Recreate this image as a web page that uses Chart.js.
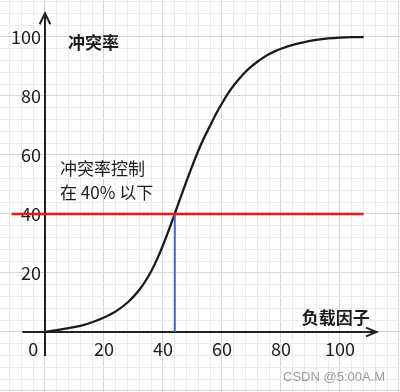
<!DOCTYPE html>
<html>
<head>
<meta charset="utf-8">
<script src="https://cdn.jsdelivr.net/npm/chart.js@4/dist/chart.umd.min.js"></script>
<style>
  html, body { margin: 0; padding: 0; background: #ffffff; }
  #wrap { width: 400px; height: 392px; }
</style>
</head>
<body>
<div id="wrap"><canvas id="c" width="400" height="392"></canvas></div>
<script>
// ---- data ----
const loadFactor    = [0, 4, 8, 12, 16, 20, 24, 28, 30, 32, 34, 36, 38, 40, 42, 44, 46, 48, 50, 52, 54, 56, 58, 60, 62, 64, 66, 68, 70, 72, 74, 76, 78, 80, 84, 88, 92, 96, 100, 104, 108];
const collisionRate = [0, 0.6, 1.3, 2.1, 3.3, 4.9, 7.0, 10.0, 12.0, 14.3, 17.2, 20.6, 24.7, 29.4, 34.6, 40.1, 45.7, 51.2, 56.5, 61.5, 66.0, 70.0, 74.0, 77.5, 80.8, 83.6, 86.0, 88.2, 90.0, 91.6, 93.0, 94.2, 95.2, 96.0, 97.3, 98.3, 99.0, 99.5, 99.8, 99.95, 100];
const limitRate = 40;          // red horizontal line
const limitLoad = 44;          // blue vertical line
const limitSpan = [-11.3, 108];
const xTickLabels = [20, 40, 60, 80, 100];
const yTickLabels = [20, 40, 60, 80, 100];
const xAxisSpan = [-7.7, 112.4];
const yAxisSpan = [-8.1, 108];
const yAxisTitle = '冲突率';
const xAxisTitle = '负载因子';
const noteLine1 = '冲突率控制';
const noteLine2 = '在 40% 以下';
const originLabel = '0';
const watermark = 'CSDN @5:00A.M';

// ---- styles ----
const CJK = '"Noto Sans CJK SC", "Microsoft YaHei", sans-serif';
const INK = '#1c1c1c';
const MAJOR = '#d6d6d6';
const MINOR = '#ebebeb';

const curvePts = loadFactor.map((v, i) => ({x: v, y: collisionRate[i]}));

const zeroPad = s => { s.paddingTop = 0; s.paddingBottom = 0; s.paddingLeft = 0; s.paddingRight = 0; };

const textPlugin = {
  id: 'notes',
  afterDatasetsDraw(chart) {
    const {ctx, scales: {x, y}} = chart;
    const put = (text, vx, vy, font, color, align) => {
      ctx.font = font; ctx.fillStyle = color; ctx.textAlign = align; ctx.textBaseline = 'middle';
      ctx.fillText(text, x.getPixelForValue(vx), y.getPixelForValue(vy));
    };
    ctx.save();
    put(yAxisTitle, 7.8, 98, 'bold 17px ' + CJK, INK, 'left');
    put(xAxisTitle, 87, 4.75, 'bold 17px ' + CJK, INK, 'left');
    put(noteLine1, 5.1, 55.5, '17px ' + CJK, INK, 'left');
    put(noteLine2, 5.1, 47.3, '17px ' + CJK, INK, 'left');
    put(originLabel, -4, -5.8, '18px ' + CJK, INK, 'center');
    put(watermark, 80.7, -15.3, '13px "Liberation Sans", Arial, sans-serif', '#9a9a9a', 'left');
    ctx.restore();
  }
};

new Chart(document.getElementById('c'), {
  type: 'line',
  data: {
    datasets: [
      { // red limit line
        data: limitSpan.map(v => ({x: v, y: limitRate})),
        borderColor: '#ff1010', borderWidth: 2.4, pointRadius: 0, tension: 0
      },
      { // blue drop line
        data: [{x: limitLoad, y: 0}, {x: limitLoad, y: limitRate}],
        borderColor: '#4f63c6', borderWidth: 2, pointRadius: 0, tension: 0
      },
      { // sigmoid curve
        data: curvePts,
        borderColor: '#1a1a1a', borderWidth: 2.3, pointRadius: 0,
        cubicInterpolationMode: 'monotone'
      },
      { // x axis line
        data: xAxisSpan.map(v => ({x: v, y: 0})),
        borderColor: '#222', borderWidth: 2, pointRadius: 0, tension: 0
      },
      { // x axis arrow head
        data: [{x: xAxisSpan[1] - 3.6, y: 1.5}, {x: xAxisSpan[1], y: 0}, {x: xAxisSpan[1] - 3.6, y: -1.5}],
        borderColor: '#222', borderWidth: 2, pointRadius: 0, tension: 0, borderJoinStyle: 'miter'
      },
      { // y axis line
        data: yAxisSpan.map(v => ({x: 0, y: v})),
        borderColor: '#222', borderWidth: 2, pointRadius: 0, tension: 0
      },
      { // y axis arrow head
        data: [{x: -1.8, y: yAxisSpan[1] - 3.7}, {x: 0, y: yAxisSpan[1]}, {x: 1.8, y: yAxisSpan[1] - 3.7}],
        borderColor: '#222', borderWidth: 2, pointRadius: 0, tension: 0, borderJoinStyle: 'miter'
      }
    ]
  },
  options: {
    responsive: false,
    animation: false,
    events: [],
    layout: { padding: 0 },
    plugins: { legend: { display: false }, tooltip: { enabled: false } },
    scales: {
      x: {
        type: 'linear',
        position: { y: 0 },
        min: -15.25, max: 120.34,
        border: { display: false },
        grid: {
          drawTicks: false, lineWidth: 1,
          color: c => (c.tick && c.tick.value % 20 === 0) ? MAJOR : MINOR
        },
        ticks: {
          stepSize: 4, includeBounds: false, autoSkip: false, maxRotation: 0,
          padding: 6,
          font: { family: CJK, size: 18 }, color: INK,
          callback: v => xTickLabels.includes(v) ? String(v) : ''
        },
        afterFit: zeroPad
      },
      y: {
        type: 'linear',
        position: { x: -1.36 },
        min: -20.34, max: 112.54,
        border: { display: false },
        grid: {
          drawTicks: false, lineWidth: 1,
          color: c => (c.tick && c.tick.value % 20 === 0) ? MAJOR : MINOR
        },
        ticks: {
          stepSize: 4, includeBounds: false, autoSkip: false,
          padding: 0,
          font: { family: CJK, size: 18 }, color: INK,
          callback: v => yTickLabels.includes(v) ? String(v) : ''
        },
        afterFit: zeroPad
      }
    }
  },
  plugins: [textPlugin]
});
</script>
</body>
</html>
